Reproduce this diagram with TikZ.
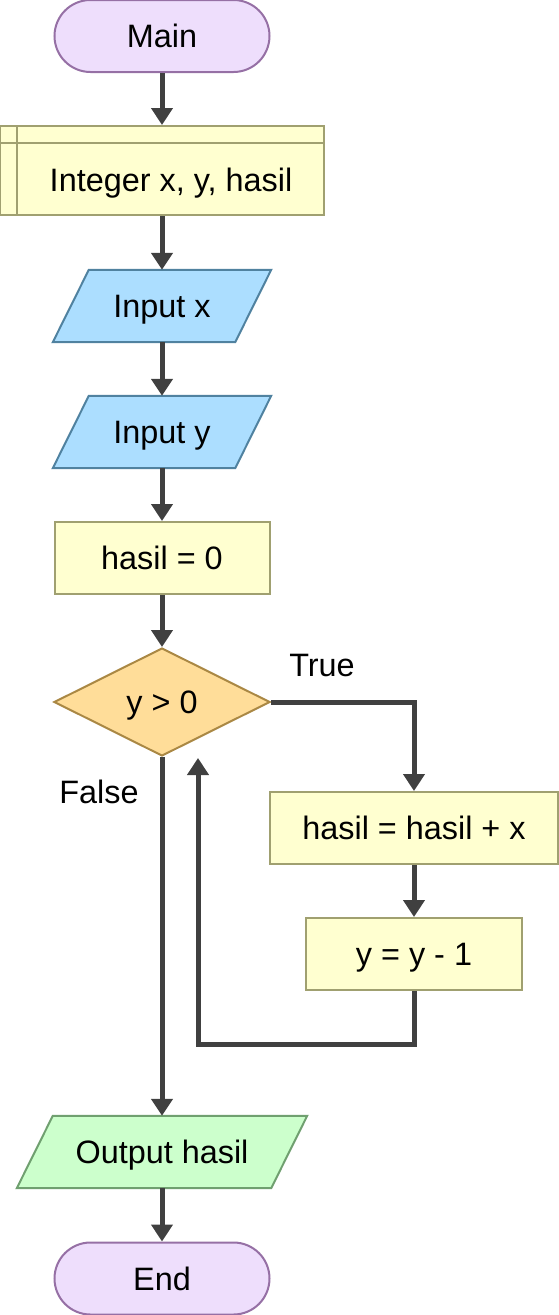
\documentclass[tikz,border=0pt]{standalone}
\usepackage{fontspec}
\setmainfont{Liberation Sans}
\usetikzlibrary{arrows.meta,shapes.geometric,backgrounds}
\definecolor{lineC}{RGB}{64,64,64}
\definecolor{termF}{RGB}{238,222,252}
\definecolor{termB}{RGB}{150,112,165}
\definecolor{procF}{RGB}{255,255,208}
\definecolor{procB}{RGB}{160,160,112}
\definecolor{inF}{RGB}{172,222,255}
\definecolor{inB}{RGB}{80,130,160}
\definecolor{decF}{RGB}{255,221,153}
\definecolor{decB}{RGB}{170,136,68}
\definecolor{outF}{RGB}{204,255,204}
\definecolor{outB}{RGB}{112,160,112}
\begin{document}
\begin{tikzpicture}[x=1pt,y=-1pt,
  every node/.style={font=\fontsize{32.4}{38}\selectfont, inner sep=0pt, text=black, text height=23.2pt, text depth=0pt},
  term/.style={rectangle, rounded corners=36pt, draw=termB, fill=termF, line width=2pt, minimum width=215pt, minimum height=72pt},
  proc/.style={rectangle, draw=procB, fill=procF, line width=2pt, minimum height=72pt},
  iobox/.style={rectangle, minimum height=72pt},
  decision/.style={diamond, draw=decB, fill=decF, line width=2pt, minimum width=216pt, minimum height=108pt},
  flow/.style={draw=lineC, line width=5pt, -{Triangle[length=17pt,width=21pt]}},
  lbl/.style={}
]
\useasboundingbox (0,0) rectangle (559,1315);

\node[term] (main) at (162,36) {Main};

\node[proc, minimum width=324pt, minimum height=89pt] (decl) at (162,170.5) {};
\draw[draw=procB, line width=2pt] ([xshift=18pt]decl.north west) -- ([xshift=18pt]decl.south west);
\draw[draw=procB, line width=2pt] ([yshift=-18pt]decl.north west) -- ([yshift=-18pt]decl.north east);
\node (decltext) at (171,180) {Integer x, y, hasil};

\node[iobox, minimum width=182pt] (inx) at (162,306) {Input x};
\node[iobox, minimum width=182pt] (iny) at (162,432) {Input y};
\node[proc, minimum width=215pt] (init) at (162,558) {hasil = 0};
\node[decision] (cond) at (162,702) {y > 0};
\node[proc, minimum width=288pt] (acc) at (414,828) {hasil = hasil + x};
\node[proc, minimum width=216pt] (dec) at (414,954) {y = y - 1};
\node[iobox, minimum width=254pt] (out) at (162,1152) {Output hasil};
\node[term] (end) at (162,1278.5) {End};

\node[lbl] (truelbl) at (322,665) {True};
\node[lbl] (falselbl) at (99,792) {False};

\begin{scope}[on background layer]
  \foreach \n/\f/\b in {inx/inF/inB, iny/inF/inB, out/outF/outB}{
    \draw[draw=\b, fill=\f, line width=2pt]
      ([xshift=18pt]\n.north west) -- ([xshift=18pt]\n.north east) --
      ([xshift=-18pt]\n.south east) -- ([xshift=-18pt]\n.south west) -- cycle;
  }
\end{scope}

\coordinate (loopturn) at (414,1044);
\coordinate (loopend) at ([xshift=36pt,yshift=-1pt]cond.south);

\draw[flow] (main) -- (decl);
\draw[flow] (decl) -- (inx);
\draw[flow] (inx) -- (iny);
\draw[flow] (iny) -- (init);
\draw[flow] (init) -- (cond);
\draw[flow] (cond.east) -| (acc.north);
\draw[flow] (acc) -- (dec);
\draw[flow] (dec.south) -- (loopturn) -| (loopend);
\draw[flow] (cond.south) -- (out.north);
\draw[flow] (out) -- (end);
\end{tikzpicture}
\end{document}
